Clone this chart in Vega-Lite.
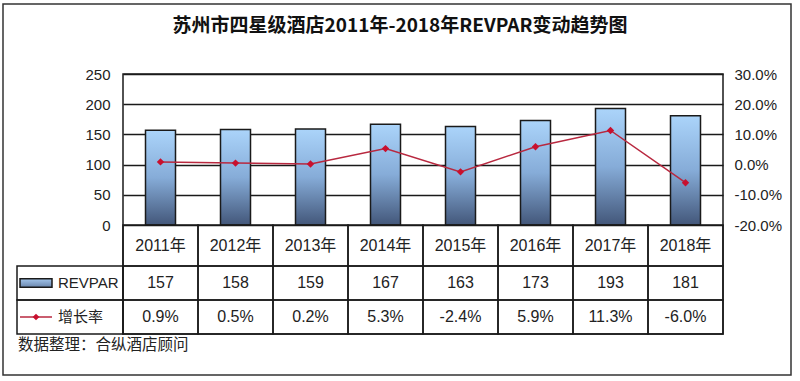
{
  "$schema": "https://vega.github.io/schema/vega-lite/v6.json",
  "width": 600,
  "height": 260,
  "autosize": {"type": "none"},
  "padding": {"left": 123, "top": 74, "right": 77, "bottom": 47},
  "background": "#ffffff",
  "config": {
    "view": {"stroke": "#1a1a1a", "strokeWidth": 1.5},
    "font": "Liberation Sans",
    "locale": {"number": {"decimal": ".", "thousands": ",", "grouping": [3], "currency": ["", ""], "minus": "-"}}
  },
  "title": {
    "text": "苏州市四星级酒店2011年-2018年REVPAR变动趋势图",
    "font": "Noto Sans CJK SC",
    "fontSize": 19,
    "fontWeight": "bold",
    "color": "#111111",
    "anchor": "middle",
    "frame": "bounds",
    "dx": 3,
    "offset": -33
  },
  "data": {"values": [
    {"year": "2011年", "revpar": 157, "growth": 0.009},
    {"year": "2012年", "revpar": 158, "growth": 0.005},
    {"year": "2013年", "revpar": 159, "growth": 0.002},
    {"year": "2014年", "revpar": 167, "growth": 0.053},
    {"year": "2015年", "revpar": 163, "growth": -0.024},
    {"year": "2016年", "revpar": 173, "growth": 0.059},
    {"year": "2017年", "revpar": 193, "growth": 0.113},
    {"year": "2018年", "revpar": 181, "growth": -0.060}
  ]},
  "layer": [
    {
      "encoding": {
        "x": {"field": "year", "type": "nominal", "sort": null, "scale": {"paddingInner": 0, "paddingOuter": 0}, "axis": null}
      },
      "layer": [
        {
          "layer": [
            {
              "mark": {
                "type": "bar",
                "width": {"band": 0.4},
                "fill": {"gradient": "linear", "x1": 0, "y1": 0, "x2": 0, "y2": 1,
                  "stops": [{"offset": 0, "color": "#abd4fa"}, {"offset": 0.5, "color": "#86acd8"}, {"offset": 1, "color": "#43577a"}]},
                "stroke": "#1a1a1a",
                "strokeWidth": 1.5
              },
              "encoding": {
                "y": {"field": "revpar", "type": "quantitative",
                  "scale": {"domain": [0, 250], "range": [151, 0], "nice": false, "zero": true},
                  "axis": {"orient": "left", "values": [0, 50, 100, 150, 200, 250], "grid": true, "gridColor": "#1a1a1a", "gridWidth": 1.5,
                    "ticks": false, "domain": false, "labelPadding": 13, "labelFont": "Liberation Sans", "labelFontSize": 15, "labelColor": "#222222", "title": null}}
              }
            },
            {
              "encoding": {
                "y": {"field": "growth", "type": "quantitative",
                  "scale": {"domain": [-0.2, 0.3], "range": [151, 0], "nice": false, "zero": false},
                  "axis": {"orient": "right", "values": [-0.2, -0.1, 0, 0.1, 0.2, 0.3], "format": ".1%", "grid": false,
                    "ticks": false, "domain": false, "labelPadding": 11, "labelFont": "Liberation Sans", "labelFontSize": 15, "labelColor": "#222222", "title": null}}
              },
              "layer": [
                {"mark": {"type": "line", "color": "#b8283f", "strokeWidth": 1.5}},
                {"mark": {"type": "point", "shape": "diamond", "filled": true, "color": "#c8102e", "size": 55, "opacity": 1}}
              ]
            }
          ],
          "resolve": {"scale": {"y": "independent"}, "axis": {"y": "independent"}}
        },
        {
          "encoding": {
            "y": {"datum": "年份", "type": "nominal", "scale": {"domain": ["年份"], "range": [151, 192], "paddingInner": 0, "paddingOuter": 0}, "axis": null}
          },
          "layer": [
            {"mark": {"type": "rect", "filled": false, "color": "#1a1a1a", "strokeWidth": 1.5}},
            {"mark": {"type": "text", "font": "Liberation Sans, Noto Sans CJK SC", "fontSize": 16, "color": "#222222"}, "encoding": {"text": {"field": "year"}}}
          ]
        },
        {
          "layer": [
            {"mark": {"type": "rect", "filled": false, "color": "#1a1a1a", "strokeWidth": 1.5},
             "encoding": {"y": {"datum": "REVPAR", "type": "nominal", "scale": {"domain": ["REVPAR", "增长率"], "range": [192, 260], "paddingInner": 0, "paddingOuter": 0}, "axis": null}}},
            {"mark": {"type": "rect", "filled": false, "color": "#1a1a1a", "strokeWidth": 1.5},
             "encoding": {"y": {"datum": "增长率", "type": "nominal", "scale": {"domain": ["REVPAR", "增长率"], "range": [192, 260], "paddingInner": 0, "paddingOuter": 0}, "axis": null}}},
            {"mark": {"type": "text", "font": "Liberation Sans", "fontSize": 16, "color": "#222222"},
             "encoding": {"y": {"datum": "REVPAR", "type": "nominal", "scale": {"domain": ["REVPAR", "增长率"], "range": [192, 260], "paddingInner": 0, "paddingOuter": 0}, "axis": null},
               "text": {"field": "revpar", "type": "quantitative"}}},
            {"mark": {"type": "text", "font": "Liberation Sans", "fontSize": 16, "color": "#222222"},
             "encoding": {"y": {"datum": "增长率", "type": "nominal", "scale": {"domain": ["REVPAR", "增长率"], "range": [192, 260], "paddingInner": 0, "paddingOuter": 0}, "axis": null},
               "text": {"field": "growth", "type": "quantitative", "format": ".1%"}}}
          ]
        }
      ],
      "resolve": {"scale": {"y": "independent"}, "axis": {"y": "independent"}}
    },
    {
      "data": {"values": [{"series": "REVPAR"}, {"series": "增长率"}]},
      "encoding": {
        "x": {"datum": "legend", "type": "nominal", "scale": {"domain": ["legend"], "range": [-106, 0], "paddingInner": 0, "paddingOuter": 0}, "axis": null},
        "y": {"field": "series", "type": "nominal", "sort": null, "scale": {"domain": ["REVPAR", "增长率"], "range": [192, 260], "paddingInner": 0, "paddingOuter": 0}, "axis": null}
      },
      "layer": [
        {"mark": {"type": "rect", "filled": false, "color": "#1a1a1a", "strokeWidth": 1.5}},
        {"mark": {"type": "text", "align": "left", "dx": -12, "font": "Liberation Sans, Noto Sans CJK SC", "fontSize": 15, "color": "#222222"},
         "encoding": {"text": {"field": "series"}}},
        {"transform": [{"filter": "datum.series === 'REVPAR'"}],
         "mark": {"type": "point", "shape": "M-1,-0.27H1V0.27H-1Z", "size": 1024, "xOffset": -34, "filled": true, "opacity": 1,
           "fill": {"gradient": "linear", "x1": 0, "y1": 0, "x2": 0, "y2": 1,
             "stops": [{"offset": 0, "color": "#a3c6ec"}, {"offset": 1, "color": "#6a86ad"}]},
           "stroke": "#1a1a1a", "strokeWidth": 1.5}},
        {"transform": [{"filter": "datum.series === '增长率'"}],
         "mark": {"type": "point", "shape": "M-1,0H1", "size": 1024, "xOffset": -34, "filled": false, "opacity": 1, "stroke": "#b8283f", "strokeWidth": 1.5}},
        {"transform": [{"filter": "datum.series === '增长率'"}],
         "mark": {"type": "point", "shape": "diamond", "size": 45, "xOffset": -34, "filled": true, "opacity": 1, "color": "#c8102e"}},
        {"transform": [{"filter": "datum.series === '增长率'"}],
         "mark": {"type": "text", "text": "数据整理：合纵酒店顾问", "align": "left", "dx": -52, "dy": 28, "font": "Noto Sans CJK SC", "fontSize": 15.5, "color": "#222222"}}
      ]
    },
    {
      "data": {"values": [{"frame": "outer"}]},
      "mark": {"type": "rect", "filled": false, "color": "#333333", "strokeWidth": 1.5},
      "encoding": {
        "x": {"datum": 0, "type": "quantitative", "scale": {"domain": [0, 1], "range": [-120, 668]}, "axis": null},
        "x2": {"datum": 1},
        "y": {"datum": 0, "type": "quantitative", "scale": {"domain": [0, 1], "range": [-70, 301]}, "axis": null},
        "y2": {"datum": 1}
      }
    }
  ],
  "resolve": {"scale": {"x": "independent", "y": "independent"}, "axis": {"x": "independent", "y": "independent"}}
}
